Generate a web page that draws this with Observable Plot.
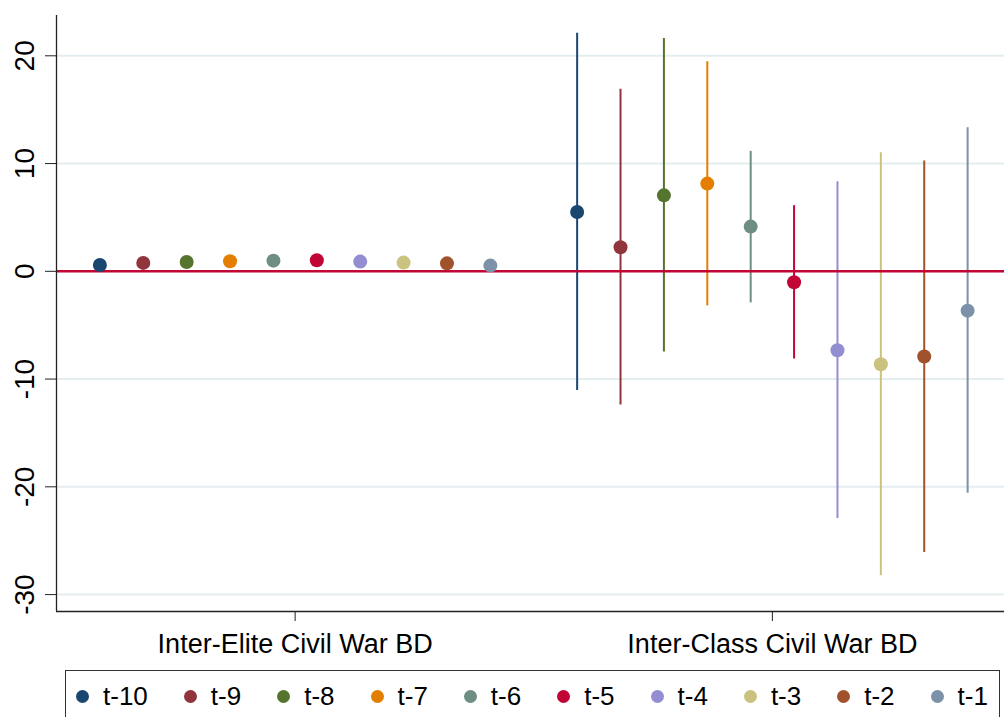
<!DOCTYPE html>
<html>
<head>
<meta charset="utf-8">
<script src="https://cdn.jsdelivr.net/npm/d3@7"></script>
<script src="https://cdn.jsdelivr.net/npm/@observablehq/plot@0.6"></script>
<style>
  html, body { margin: 0; padding: 0; background: #fff; }
  #wrap { position: relative; width: 1004px; height: 717px; overflow: hidden; font-family: "Liberation Sans", Arial, sans-serif; }
  #legend { position: absolute; left: 65px; top: 670px; width: 935px; height: 60px; border: 1px solid #333; box-sizing: border-box;
            display: flex; flex-wrap: nowrap; align-items: flex-start; padding-left: 10px; padding-top: 8px; }
  .item { display: flex; flex: 0 0 auto; align-items: center; white-space: nowrap; margin-right: 36px; font-size: 26px; color: #000; line-height: 34px; }
  .dot { flex: 0 0 auto; width: 13px; height: 13px; border-radius: 50%; margin-right: 14px; }
</style>
</head>
<body>
<div id="wrap"><div id="chart"></div><div id="legend"></div></div>
<script>
const lags = ["t-10", "t-9", "t-8", "t-7", "t-6", "t-5", "t-4", "t-3", "t-2", "t-1"];
const colors = ["#1a476f", "#90353b", "#55752f", "#e37e00", "#6e8e84", "#c10534", "#938dd2", "#cac27e", "#a0522d", "#7b92a8"];
const groups = ["Inter-Elite Civil War BD", "Inter-Class Civil War BD"];

const eliteEst = [0.59, 0.78, 0.87, 0.93, 0.99, 1.02, 0.90, 0.81, 0.74, 0.53];
const eliteLo  = [0.35, 0.55, 0.62, 0.68, 0.72, 0.76, 0.64, 0.56, 0.50, 0.30];
const eliteHi  = [0.83, 1.01, 1.12, 1.18, 1.26, 1.28, 1.16, 1.06, 0.98, 0.76];

const classEst = [5.5, 2.23, 7.05, 8.14, 4.15, -1.02, -7.33, -8.63, -7.91, -3.65];
const classLo  = [-11.07, -12.4, -7.48, -3.21, -2.93, -8.13, -22.94, -28.26, -26.1, -20.6];
const classHi  = [22.1, 16.9, 21.6, 19.45, 11.13, 6.09, 8.32, 11.01, 10.24, 13.33];

const yTicks = [-30, -20, -10, 0, 10, 20];
const yDomain = [-31.57, 23.74];
const xDomain = [0, 21.85];

const rows = [];
[[eliteEst, eliteLo, eliteHi], [classEst, classLo, classHi]].forEach(([est, lo, hi], g) => {
  lags.forEach((lag, i) => {
    rows.push({group: groups[g], lag, pos: g * 11 + i + 1, est: est[i], lo: lo[i], hi: hi[i]});
  });
});
const groupCenters = groups.map((g, k) => k * 11 + 5.5);

const font = "'Liberation Sans', Arial, sans-serif";

const chart = Plot.plot({
  width: 1004,
  height: 660,
  marginLeft: 56,
  marginRight: 0,
  marginTop: 15,
  marginBottom: 49,
  style: {fontFamily: font, color: "#000", background: "#fff", overflow: "visible"},
  x: {domain: xDomain, axis: null, label: null},
  y: {domain: yDomain, axis: null, label: null},
  color: {type: "ordinal", domain: lags, range: colors},
  marks: [
    Plot.ruleY(yTicks.filter(d => d !== 0), {stroke: "#e4edf0", strokeWidth: 2}),
    Plot.ruleX(rows, {x: "pos", y1: "lo", y2: "hi", stroke: "lag", strokeWidth: 2}),
    Plot.ruleY([0], {stroke: "#c10534", strokeWidth: 2.5}),
    Plot.dot(rows, {x: "pos", y: "est", fill: "lag", r: 7}),
    Plot.ruleX([xDomain[0]], {stroke: "#222", strokeWidth: 1.3}),
    Plot.ruleY([yDomain[0]], {stroke: "#222", strokeWidth: 1.3}),
    Plot.axisY({ticks: yTicks, tickSize: 11, tickPadding: 12, tickRotate: -90, textAnchor: "middle", lineAnchor: "bottom",
      fontSize: 28, stroke: "#222", label: null, tickFormat: d => String(d)}),
    Plot.axisX({ticks: groupCenters, tickSize: 10, tickPadding: 12, fontSize: 27, stroke: "#222", label: null,
      tickFormat: v => groups[groupCenters.indexOf(v)]})
  ]
});
document.getElementById("chart").appendChild(chart);

const legend = document.getElementById("legend");
lags.forEach((lag, i) => {
  const it = document.createElement("div");
  it.className = "item";
  const d = document.createElement("span");
  d.className = "dot";
  d.style.background = colors[i];
  const t = document.createElement("span");
  t.textContent = lag;
  it.appendChild(d); it.appendChild(t);
  legend.appendChild(it);
});
</script>
</body>
</html>
